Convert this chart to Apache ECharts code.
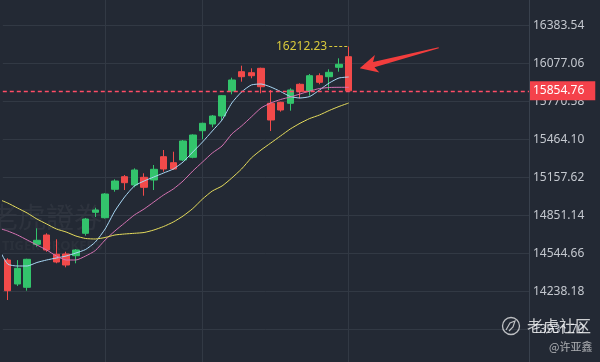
<!DOCTYPE html>
<html><head><meta charset="utf-8">
<script src="https://cdn.jsdelivr.net/npm/echarts@6/dist/echarts.min.js"></script>
<style>html,body{margin:0;padding:0;background:#232934}#c{width:600px;height:362px}</style>
</head><body><div id="c"></div>
<script>
// slot 0 is the bar scrolled off to the left; the trailing slots are empty future space
const categories = ['p','1','2','3','4','5','6','7','8','9','10','11','12','13','14','15','16','17','18','19','20','21','22','23','24','25','26','27','28','29','30','31','32','33','34','35','36',
  'f1','f2','f3','f4','f5','f6','f7','f8','f9','f10','f11','f12','f13','f14','f15','f16','f17','f18'];
// [open, close, low, high]
const candles = [
  [14490.6,14243.1,14168.0,14505.0],
  [14297.2,14423.7,14281.0,14490.0],
  [14270.5,14496.3,14243.0,14501.0],
  [14617.3,14649.6,14597.9,14746.3],
  [14692.3,14571.3,14557.0,14706.0],
  [14536.6,14474.5,14464.0,14657.6],
  [14539.0,14450.3,14431.8,14557.0],
  [14525.4,14571.3,14464.0,14579.0],
  [14706.0,14821.3,14687.0,14830.0],
  [14875.4,14893.9,14837.5,14912.5],
  [14831.8,15022.9,14825.0,15030.0],
  [15060.9,15127.8,15041.5,15141.5],
  [15162.5,15114.1,15055.0,15176.0],
  [15095.5,15216.5,15077.0,15230.0],
  [15157.6,15077.0,15009.2,15189.9],
  [15135.9,15222.2,15055.0,15256.9],
  [15323.8,15224.6,15202.9,15377.8],
  [15275.4,15224.6,15216.5,15364.0],
  [15297.2,15450.4,15289.0,15458.0],
  [15319.0,15498.8,15311.0,15504.0],
  [15533.5,15593.2,15464.0,15598.0],
  [15587.5,15652.0,15561.0,15660.0],
  [15652.0,15815.8,15620.0,15821.0],
  [15853.7,15942.4,15827.0,15961.0],
  [16009.3,15969.0,15928.7,16057.7],
  [16001.3,15977.0,15956.0,16036.7],
  [16036.7,15888.3,15835.0,16041.6],
  [15754.5,15619.8,15531.0,15861.7],
  [15762.5,15700.4,15687.0,15767.0],
  [15754.5,15861.7,15694.8,15875.4],
  [15907.7,15848.0,15794.8,15916.0],
  [15853.7,15977.0,15815.8,15990.8],
  [15977.0,15923.8,15907.7,15996.4],
  [15969.0,16004.5,15861.7,16028.7],
  [16044.8,16069.0,16009.3,16117.4],
  [16130.3,15854.76,15850.0,16212.23]
];
const ma5 = [14595.5,14458.4,14442.3,14442.3,14470.5,14490.7,14506.8,14522.9,14547.1,14575.4,14635.9,14740.7,14885.7,14998.8,15087.5,15127.9,15160.1,15192.3,15224.6,15281.1,15362.0,15442.4,15531.1,15619.8,15756.9,15845.6,15902.1,15910.1,15885.9,15849.6,15809.3,15797.2,15809.3,15861.7,15918.2,15958.5,15966.6];
const ma10 = [14748.8,14724.6,14692.3,14652.0,14611.7,14571.3,14522.9,14490.7,14490.7,14522.9,14567.3,14652.0,14724.6,14789.1,14853.6,14902.0,14958.5,15015.0,15063.4,15127.9,15208.5,15281.1,15353.7,15410.1,15506.9,15571.4,15644.0,15716.6,15756.9,15785.1,15805.3,15829.4,15853.6,15873.8,15881.9,15883.5,15883.5];
const ma30 = [14982.6,14950.4,14910.0,14869.7,14821.2,14781.0,14740.7,14716.5,14684.2,14664.1,14660.1,14672.1,14692.3,14700.4,14706.0,14712.5,14732.6,14760.8,14797.2,14845.5,14906.0,14982.6,15047.1,15087.5,15152.0,15224.6,15313.3,15377.8,15434.3,15490.8,15547.2,15593.2,15631.9,15660.1,15696.4,15728.7,15756.9];
const yTicks = [13931.70,14238.18,14544.66,14851.14,15157.62,15464.10,15770.58,16077.06,16383.54];
const lastClose = 15854.76;
const maxHigh = 16212.23;
const gridCats = ['11','21','36'];
const yMin = 13668.05, yMax = 16587.58;

const N = categories.length;
const candleData = [['-','-','-','-']].concat(candles);
while (candleData.length < N) candleData.push(['-','-','-','-']);
const padLine = a => { const out = a.slice(); while (out.length < N) out.push('-'); return out; };

const chart = echarts.init(document.getElementById('c'), null, {renderer:'canvas'});
const GREEN = '#33c46c', RED = '#f24a4a';
const lineS = (name, data, color) => ({
  name, type:'line', data: padLine(data), showSymbol:false, symbol:'none', smooth:0.2, clip:false,
  lineStyle:{color, width:1}, z:4, silent:true
});
chart.setOption({
  backgroundColor:'#232934',
  animation:false,
  grid:{left:2.8, right:71, top:0, bottom:0, containLabel:false},
  xAxis:{type:'category', data:categories, boundaryGap:true, min:1, max:N-1,
    axisLine:{show:false}, axisTick:{show:false}, axisLabel:{show:false}, splitLine:{show:false}},
  yAxis:{type:'value', position:'right', min:yMin, max:yMax, scale:true, z:0,
    axisLine:{show:true, lineStyle:{color:'#39414d'}},
    axisTick:{show:false, customValues:yTicks},
    splitLine:{show:true, lineStyle:{color:'#323944', width:1}},
    axisLabel:{customValues:yTicks, color:'#c4c8cf', fontSize:12, margin:4, fontFamily:'Noto Sans',
      formatter: v => Number(v).toFixed(2)}},
  series:[
    {type:'line', data:[], z:0, silent:true,
      markLine:{z:0, silent:true, symbol:['none','none'], label:{show:false},
        lineStyle:{color:'#323944', type:'solid', width:1},
        data: gridCats.map(c => ({xAxis:c}))}},
    {type:'candlestick', data:candleData, barWidth:7, z:3,
      itemStyle:{color:GREEN, color0:RED, borderColor:GREEN, borderColor0:RED, borderWidth:1},
      markLine:{z:6, silent:true, symbol:['none','none'], animation:false,
        data:[
          [{coord:[categories[34], maxHigh], lineStyle:{color:'#d9c93c', type:[3,2], width:1},
             label:{show:true, position:'start', distance:2, formatter: maxHigh.toFixed(2),
               color:'#d9c93c', fontSize:12, fontFamily:'Noto Sans'}},
           {coord:[categories[36], maxHigh]}]
        ]}},
    lineS('MA5', ma5, '#a9d8f5'),
    lineS('MA10', ma10, '#d673b3'),
    lineS('MA30', ma30, '#e6dc5c'),
    {type:'line', data:[], z:6, silent:true, color:'#ff4d66',
      markLine:{z:6, silent:true, symbol:['none','none'], animation:false,
        lineStyle:{color:'#ff4d66', type:[4,3], width:1.4},
        label:{show:true, position:'end', distance:1, formatter: lastClose.toFixed(2),
          backgroundColor:'#f5424b', color:'#ffffff', fontSize:12, fontFamily:'Noto Sans',
          lineHeight:13, padding:[3,11,3,3]},
        data:[{yAxis:lastClose}]}}
  ],
  graphic:[
    {type:'text', left:-10, top:203, silent:true, z:0,
      style:{text:'老虎證券', font:'28px "Noto Sans CJK TC"', fill:'rgba(255,255,255,0.05)'}},
    {type:'text', left:2, top:240, silent:true, z:0,
      style:{text:'TIGER BROKERS', font:'bold 13px "Noto Sans"', fill:'rgba(255,255,255,0.04)'}},
    {type:'circle', shape:{cx:511, cy:326, r:8.5}, silent:true, z:10,
      style:{fill:'none', stroke:'rgba(255,255,255,0.7)', lineWidth:1.3}},
    {type:'polyline', shape:{points:[[506,330],[510,323],[515,321],[513,327],[509,331]]}, silent:true, z:10,
      style:{fill:'none', stroke:'rgba(255,255,255,0.7)', lineWidth:1.2}},
    {type:'text', x:527, y:326, silent:true, z:10,
      style:{text:'老虎社区', font:'16px "Noto Sans CJK SC"', fill:'rgba(255,255,255,0.78)', textVerticalAlign:'middle'}},
    {type:'text', x:549, y:347, silent:true, z:10,
      style:{text:'@许亚鑫', font:'11px "Noto Sans CJK SC"', fill:'rgba(255,255,255,0.62)', textVerticalAlign:'middle'}}
  ]
});

// red annotation arrow, anchored to the last candle's open
const last = candles[candles.length-1];
const anchor = chart.convertToPixel({xAxisIndex:0, yAxisIndex:0}, [categories[candles.length], last[0]]);
const T = [anchor[0] + 11, anchor[1] + 11.6];
const u = [0.968, -0.251], p = [0.251, 0.968];
const P = (a, b) => [T[0] + a*u[0] + b*p[0], T[1] + a*u[1] + b*p[1]];
chart.setOption({graphic:[{type:'polygon', id:'arrow', silent:true, z:20,
  shape:{points:[T, P(18,9), P(14.5,2.8), P(81.6,0.5), P(81.6,-0.5), P(14.5,-2.8), P(18,-9)]},
  style:{fill:'#f23d3d'}}]});
</script></body></html>
